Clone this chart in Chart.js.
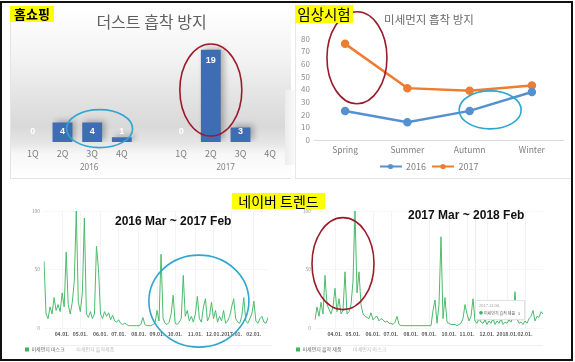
<!DOCTYPE html>
<html>
<head>
<meta charset="utf-8">
<script src="https://cdn.jsdelivr.net/npm/chart.js"></script>
<style>
  body { margin:0; width:575px; height:362px; position:relative; overflow:hidden; background:#fff;
         font-family:"Noto Sans CJK KR","Noto Sans",sans-serif; }
  .abs { position:absolute; }
  canvas { position:absolute; }
  .tag { position:absolute; background:#ffff00; color:#000; line-height:1; white-space:nowrap; text-align:center; }
  .period { position:absolute; font:bold 12px "Liberation Sans",Arial,sans-serif; color:#111; white-space:nowrap; }
</style>
</head>
<body>

<!-- panels -->
<div class="abs" style="left:10px;top:6px;width:280px;height:172px;border-left:1px solid #e4e4e4;border-bottom:1px solid #e4e4e4;
     background:linear-gradient(to bottom,#ffffff 0%,#f3f3f3 30%,#e2e2e2 55%,#d9d9d9 70%,#e6e6e6 80%,#f7f7f7 86%,#ffffff 100%);"></div>
<div class="abs" style="left:285px;top:90px;width:10px;height:75px;background:linear-gradient(to right,#ececec,#fafafa);"></div>
<div class="abs" style="left:295px;top:5px;width:275px;height:173px;border-left:1px solid #e8e8e8;border-bottom:1px solid #e4e4e4;background:#fff;"></div>

<canvas id="dust" width="280" height="172" style="left:10px;top:6px;"></canvas>
<canvas id="clinical" width="275" height="176" style="left:295px;top:5px;"></canvas>

<div class="abs" style="left:40px;top:345px;width:232px;height:1px;background:#f0f0f0;"></div>
<div class="abs" style="left:311px;top:345px;width:232px;height:1px;background:#f0f0f0;"></div>
<div class="abs" style="left:475px;top:208px;width:1px;height:120px;background:#ececec;"></div>

<canvas id="trend1" width="265" height="162" style="left:20px;top:200px;"></canvas>
<canvas id="trend2" width="265" height="162" style="left:291px;top:200px;"></canvas>

<!-- overlays -->
<div class="tag" style="left:10px;top:6px;width:44px;height:16px;font-size:13px;font-weight:bold;line-height:16px;">홈쇼핑</div>
<div class="tag" style="left:295px;top:5px;width:58px;height:18px;font-size:14.5px;line-height:18px;">임상시험</div>
<div class="tag" style="left:232px;top:193px;width:93px;height:16px;font-size:14px;line-height:16px;">네이버 트렌드</div>

<div class="period" style="left:115px;top:214px;">2016 Mar ~ 2017 Feb</div>
<div class="period" style="left:408px;top:208px;">2017 Mar ~ 2018 Feb</div>

<div class="abs" style="left:475px;top:300px;width:50px;height:20px;background:#fff;border:1px solid #e2e2e2;box-shadow:0 1px 2px rgba(0,0,0,0.08);font-size:4px;color:#999;line-height:8px;padding-left:3px;box-sizing:border-box;">
  <div>2017.12.04.</div>
  <div style="color:#666;"><span style="color:#3fb45f;">●</span> 미세먼지 흡착 제품 &nbsp;&nbsp;3</div>
</div>

<div class="abs" style="left:0px;top:1px;width:569px;height:356px;border:2px solid #111;"></div>

<script>
// 홈쇼핑: 분기별 건수
var quarterLabels = ['1Q', '2Q', '3Q', '4Q', '', '1Q', '2Q', '3Q', '4Q'];
var yearLabels = ['2016', '2017'];
var dustCounts = [0, 4, 4, 1, null, 0, 19, 3, null];

// 임상시험: 계절별
var seasons = ['Spring', 'Summer', 'Autumn', 'Winter'];
var clinical2016 = [23, 14, 23, 38];
var clinical2017 = [76, 41, 39, 43];

// 네이버 트렌드 2016.03 ~ 2017.02
var trend1 = [57,12,8,18,12,26,15,20,14,30, 18,65,20,12,22,40,100,22,14,30,
              94,12,9,14,8,12,70,50,12,8, 14,10,13,7,11,6,5,7,4,3,
              4,3,2,2,2,2,2,2,3,9, 3,2,2,2,3,4,15,6,63,8,
              4,3,5,12,28,4,3,5,8,45, 10,15,6,10,5,12,27,8,5,18,
              25,6,10,22,8,15,5,10,6,15, 4,6,10,18,25,8,5,4,10,26,
              6,4,8,12,23,6,4,8,10,5, 4,9];
var trend1Months = ['04.01.', '05.01.', '06.01.', '07.01.', '08.01.', '09.01.', '10.01.', '11.01.', '12.01.', '2017.01.', '02.01.'];
var trend1MonthAt = [9, 18, 28, 37, 47, 56, 65, 75, 84, 93, 104];

// 네이버 트렌드 2017.03 ~ 2018.02
var trend2 = [7,18,10,22,12,45,20,16,12,18, 34,14,25,12,15,48,12,14,20,40,
              100,30,48,20,12,10,9,8,13,7, 9,10,6,8,7,5,6,4,4,3,
              5,10,3,2,2,2,2,2,2,2, 2,2,2,2,2,2,2,2,2,15,
              24,4,20,78,8,26,5,4,3,3, 3,2,3,4,8,20,12,6,10,25,
              6,4,8,5,4,7,3,6,4,8, 3,6,4,8,3,5,4,7,5,10,
              31,8,4,5,3,6,4,8,10,15, 6,10,9,14,12];
var trend2Months = ['04.01.', '05.01.', '06.01.', '07.01.', '08.01.', '09.01.', '10.01.', '11.01.', '12.01.', '2018.01.', '02.01.'];
var trend2MonthAt = [10, 19, 29, 38, 48, 57, 67, 76, 86, 96, 105];

Chart.defaults.font.family = '"Noto Sans CJK KR", "Noto Sans", sans-serif';

var RED = '#9c1b2b', TEAL = '#2fa6cf';

// circles drawn around data positions (x = category index, y = value)
var ellipsePlugin = {
  id: 'ellipses',
  afterDraw: function(chart, args, opts) {
    var ctx = chart.ctx;
    (opts.items || []).forEach(function(e) {
      var cx = chart.scales.x.getPixelForValue(e.x);
      var cy = chart.scales.y.getPixelForValue(e.y);
      ctx.save();
      ctx.strokeStyle = e.color;
      ctx.lineWidth = 1.6;
      ctx.beginPath();
      ctx.ellipse(cx, cy, e.rx, e.ry, 0, 0, Math.PI * 2);
      ctx.stroke();
      ctx.restore();
    });
  }
};

var barDecor = {
  id: 'barDecor',
  beforeDatasetsDraw: function(chart) {
    var ctx = chart.ctx;
    ctx.save();
    ctx.shadowColor = 'rgba(0,0,0,0.28)';
    ctx.shadowBlur = 6;
    ctx.shadowOffsetX = 3;
    ctx.shadowOffsetY = -2;
  },
  afterDatasetsDraw: function(chart, args, opts) {
    var ctx = chart.ctx;
    ctx.restore();
    var base = chart.scales.y.getPixelForValue(0);
    var meta = chart.getDatasetMeta(0);
    ctx.save();
    ctx.fillStyle = '#ffffff';
    ctx.font = 'bold 9px "Liberation Sans", Arial, sans-serif';
    ctx.textAlign = 'center';
    ctx.textBaseline = 'middle';
    meta.data.forEach(function(bar, i) {
      var v = chart.data.datasets[0].data[i];
      if (v === null) return;
      ctx.fillText(String(v), bar.x, Math.min(bar.y + 11, base - 10));
    });
    // year row under the quarter labels
    ctx.fillStyle = '#7f7f7f';
    ctx.font = '8px "Noto Sans", sans-serif';
    yearLabels.forEach(function(t, k) {
      ctx.fillText(t, chart.scales.x.getPixelForValue(opts.at[k]), opts.y);
    });
    ctx.restore();
  }
};

new Chart(document.getElementById('dust'), {
  type: 'bar',
  data: {
    labels: quarterLabels,
    datasets: [{ data: dustCounts, backgroundColor: '#3e6db3', barPercentage: 0.67, categoryPercentage: 1 }]
  },
  options: {
    responsive: false, animation: false, events: [],
    layout: { padding: { left: 8, right: 5, top: 0, bottom: 0 } },
    plugins: {
      legend: { display: false },
      tooltip: { enabled: false },
      title: { display: true, text: '더스트 흡착 방지', color: '#5f5f5f',
               font: { size: 16, weight: 'normal' }, padding: { top: 6, bottom: 4 } },
      barDecor: { at: [1.9, 6.5], y: 162 },
      ellipses: { items: [
        { x: 2.25, y: 2.75, rx: 33, ry: 19, color: TEAL },
        { x: 6, y: 10.7, rx: 31, ry: 46, color: RED }
      ] }
    },
    scales: {
      x: { grid: { display: false, drawTicks: false }, border: { display: false },
           ticks: { color: '#7f7f7f', font: { size: 9 }, padding: 6 },
           afterFit: function(s) { s.height = 36; } },
      y: { display: false, min: 0, max: 22 }
    }
  },
  plugins: [barDecor, ellipsePlugin]
});

function legendMark(color) {
  var c = document.createElement('canvas');
  c.width = 22; c.height = 7;
  var g = c.getContext('2d');
  g.strokeStyle = color; g.lineWidth = 2;
  g.beginPath(); g.moveTo(0, 3.5); g.lineTo(22, 3.5); g.stroke();
  g.fillStyle = color;
  g.beginPath(); g.arc(11, 3.5, 2.6, 0, Math.PI * 2); g.fill();
  return c;
}

new Chart(document.getElementById('clinical'), {
  type: 'line',
  data: {
    labels: seasons,
    datasets: [
      { label: '2016', data: clinical2016, borderColor: '#5590cf', backgroundColor: '#5590cf', borderWidth: 2.5, pointRadius: 3, tension: 0 },
      { label: '2017', data: clinical2017, borderColor: '#ec7d31', backgroundColor: '#ec7d31', borderWidth: 2.5, pointRadius: 3, tension: 0 }
    ]
  },
  options: {
    responsive: false, animation: false, events: [],
    layout: { padding: { left: 0, right: 7, top: 0, bottom: 0 } },
    plugins: {
      tooltip: { enabled: false },
      title: { display: true, text: '미세먼지 흡착 방지', color: '#6a6a6a',
               font: { size: 11.5, weight: 'normal' }, padding: { top: 8, bottom: 12 } },
      legend: {
        position: 'bottom',
        labels: {
          usePointStyle: true, pointStyleWidth: 22, padding: 6,
          color: '#7f7f7f', font: { size: 9 },
          generateLabels: function(chart) {
            return chart.data.datasets.map(function(d, i) {
              return { text: d.label, pointStyle: legendMark(d.borderColor), fillStyle: d.borderColor,
                       strokeStyle: d.borderColor, lineWidth: 0, datasetIndex: i, fontColor: '#7f7f7f' };
            });
          }
        }
      },
      ellipses: { items: [
        { x: 0.19, y: 65, rx: 30, ry: 46, color: RED },
        { x: 2.33, y: 23.8, rx: 31, ry: 19, color: TEAL }
      ] }
    },
    scales: {
      x: { offset: true, grid: { display: false, drawTicks: false }, border: { display: true, color: '#d9d9d9' },
           ticks: { color: '#7f7f7f', font: { size: 8.5 }, padding: 5 },
           afterFit: function(s) { s.height = 16; } },
      y: { min: 0, max: 80, grid: { display: false, drawTicks: false }, border: { display: false },
           ticks: { stepSize: 10, autoSkip: false, color: '#8c8c8c', font: { size: 8 }, padding: 4 },
           afterFit: function(s) { s.width = 19; } }
    }
  },
  plugins: [ellipsePlugin]
});

function monthLabels(n, names, at) {
  var a = [];
  for (var i = 0; i < n; i++) a.push('');
  at.forEach(function(p, k) { a[p] = names[k]; });
  return a;
}

function trendChart(id, values, labels, legendTexts, rightPad, circle) {
  return new Chart(document.getElementById(id), {
    type: 'line',
    data: {
      labels: labels,
      datasets: [{ label: legendTexts[0], data: values, borderColor: '#4dbb6d', borderWidth: 1,
                   pointRadius: 0, tension: 0, fill: false }]
    },
    options: {
      responsive: false, animation: false, events: [],
      layout: { padding: { left: 0, right: rightPad, top: 11, bottom: 0 } },
      plugins: {
        tooltip: { enabled: false },
        legend: {
          position: 'bottom', align: 'start',
          labels: {
            boxWidth: 4, boxHeight: 4, padding: 5, font: { size: 5 },
            generateLabels: function() {
              return [
                { text: legendTexts[0], fillStyle: '#3fb45f', strokeStyle: '#3fb45f', lineWidth: 0, fontColor: '#666', datasetIndex: 0 },
                { text: legendTexts[1], fillStyle: 'rgba(0,0,0,0)', strokeStyle: 'rgba(0,0,0,0)', lineWidth: 0, fontColor: '#bbbbbb' }
              ];
            }
          }
        },
        ellipses: { items: [circle] }
      },
      scales: {
        x: { grid: { color: function(c) { return c.tick && c.tick.label ? '#f3f3f3' : 'rgba(0,0,0,0)'; }, drawTicks: false },
             border: { display: false },
             ticks: { autoSkip: false, maxRotation: 0, color: '#555', font: { size: 5, weight: 'bold' }, padding: 3 },
             afterFit: function(s) { s.height = 14; } },
        y: { min: 0, max: 100, grid: { color: '#f6f6f6', drawTicks: false }, border: { display: false },
             ticks: { stepSize: 50, color: '#999', font: { size: 5 }, padding: 4 },
             afterFit: function(s) { s.width = 24; } }
      }
    },
    plugins: [ellipsePlugin]
  });
}

trendChart('trend1', trend1, monthLabels(trend1.length, trend1Months, trend1MonthAt),
           ['미세먼지 마스크', '미세먼지 흡착제품'], 17,
           { x: 76.75, y: 23, rx: 50, ry: 46, color: TEAL });
trendChart('trend2', trend2, monthLabels(trend2.length, trend2Months, trend2MonthAt),
           ['미세먼지 흡착 제품', '미세먼지 마스크'], 13,
           { x: 14, y: 55, rx: 31, ry: 46, color: RED });
</script>
</body>
</html>
